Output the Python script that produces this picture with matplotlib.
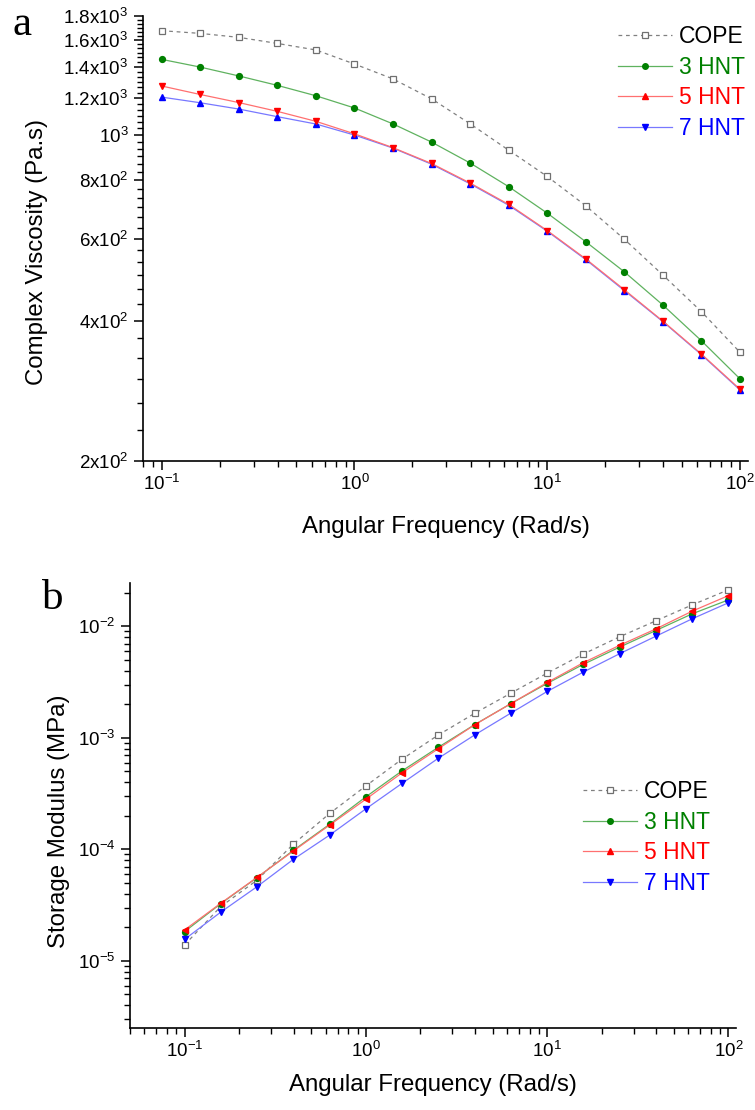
import matplotlib
matplotlib.use("Agg")
import matplotlib.pyplot as plt
from matplotlib.ticker import FixedLocator, FixedFormatter, MultipleLocator, NullFormatter, LogLocator
from matplotlib.lines import Line2D

plt.rcParams['font.family'] = ['Liberation Sans', 'DejaVu Sans']
plt.rcParams['mathtext.default'] = 'regular'
plt.rcParams['axes.unicode_minus'] = False

# ---------------- data ----------------
freq = [0.1, 0.158, 0.251, 0.398, 0.631, 1.0, 1.58, 2.51, 3.98, 6.31,
        10, 15.8, 25.1, 39.8, 63.1, 100]

series_names = ['COPE', '3 HNT', '5 HNT', '7 HNT']

visc_cope = [1674, 1652, 1620, 1572, 1522, 1420, 1320, 1196, 1057, 928, 815, 706, 598, 501, 418, 342]
visc_3hnt = [1453, 1399, 1339, 1278, 1214, 1143, 1057, 966, 871, 775, 680, 591, 509, 432, 362, 300]
visc_5hnt = [1274, 1222, 1174, 1124, 1070, 1006, 940, 869, 789, 710, 624, 543, 466, 399, 339, 285]
visc_7hnt = [1206, 1173, 1137, 1095, 1056, 1000, 938, 866, 786, 707, 622, 541, 464, 398, 338, 284]

mod_cope = [1.39e-5, 3.06e-5, 5.3e-5, 1.114e-4, 2.10e-4, 3.71e-4, 6.43e-4, 1.062e-3, 1.66e-3,
            2.52e-3, 3.81e-3, 5.64e-3, 8.07e-3, 1.122e-2, 1.56e-2, 2.13e-2]
mod_3hnt = [1.83e-5, 3.25e-5, 5.58e-5, 9.8e-5, 1.68e-4, 2.96e-4, 5.05e-4, 8.24e-4, 1.315e-3,
            2.03e-3, 3.08e-3, 4.56e-3, 6.52e-3, 9.19e-3, 1.297e-2, 1.73e-2]
mod_5hnt = [1.894e-5, 3.28e-5, 5.61e-5, 9.66e-5, 1.651e-4, 2.82e-4, 4.85e-4, 8.0e-4, 1.31e-3,
            2.03e-3, 3.14e-3, 4.72e-3, 6.77e-3, 9.5e-3, 1.37e-2, 1.89e-2]
mod_7hnt = [1.56e-5, 2.73e-5, 4.63e-5, 8.14e-5, 1.343e-4, 2.31e-4, 3.90e-4, 6.57e-4, 1.062e-3,
            1.67e-3, 2.61e-3, 3.89e-3, 5.69e-3, 8.17e-3, 1.17e-2, 1.63e-2]

visc_ticks = [200, 400, 600, 800, 1000, 1200, 1400, 1600, 1800]
visc_tick_labels = [r'$2x10^{2}$', r'$4x10^{2}$', r'$6x10^{2}$', r'$8x10^{2}$', r'$10^{3}$',
                    r'$1.2x10^{3}$', r'$1.4x10^{3}$', r'$1.6x10^{3}$', r'$1.8x10^{3}$']
freq_ticks = [0.1, 1, 10, 100]
freq_tick_labels = [r'$10^{-1}$', r'$10^{0}$', r'$10^{1}$', r'$10^{2}$']
mod_ticks = [1e-5, 1e-4, 1e-3, 1e-2]
mod_tick_labels = [r'$10^{-5}$', r'$10^{-4}$', r'$10^{-3}$', r'$10^{-2}$']

# ---------------- styles ----------------
W, H = 755, 1110
fig = plt.figure(figsize=(W / 100, H / 100), dpi=100)

c_grey, c_green, c_red, c_blue = '#707070', '#008000', '#ff0000', '#0000ff'
l_grey, l_green, l_red, l_blue = '#808080', '#5fb25f', '#ff7070', '#7878ff'
lw = 0.9
tick_fs = 13.5
label_fs = 17.3
leg_fs = 16.5


def fig_rect(x0, y0, x1, y1):
    return [x0 / W, 1 - y1 / H, (x1 - x0) / W, (y1 - y0) / H]


def style_axes(ax):
    for s in ['top', 'right']:
        ax.spines[s].set_visible(False)
    for s in ['left', 'bottom']:
        ax.spines[s].set_linewidth(1.2)
    ax.tick_params(which='major', direction='out', length=6.5, width=1.1, labelsize=tick_fs)
    ax.tick_params(which='minor', direction='out', length=4, width=1.0)
    ax.tick_params(axis='x', which='major', pad=2.5)
    ax.tick_params(axis='y', which='major', pad=4)


def make_handles():
    return [
        Line2D([], [], color=l_grey, lw=lw, ls=(0, (3, 3)), marker='s', ms=4,
               mfc='white', mec=c_grey, mew=0.9),
        Line2D([], [], color=l_green, lw=lw, marker='o', ms=4, mfc=c_green, mec=c_green),
        Line2D([], [], color=l_red, lw=lw, marker='^', ms=4.5, mfc=c_red, mec=c_red),
        Line2D([], [], color=l_blue, lw=lw, marker='v', ms=4.5, mfc=c_blue, mec=c_blue),
    ]


def add_legend(ax, anchor):
    leg = ax.legend(make_handles(), series_names, loc='upper left', bbox_to_anchor=anchor,
                    bbox_transform=fig.transFigure, frameon=False, fontsize=leg_fs,
                    handlelength=2.35, handletextpad=0.32, labelspacing=0.33,
                    borderpad=0, borderaxespad=0)
    for txt, col in zip(leg.get_texts(), ['black', c_green, c_red, c_blue]):
        txt.set_color(col)
    return leg


# ---------------- panel a ----------------
ax1 = fig.add_axes(fig_rect(143, 16, 748, 461))
ax1.set_xscale('log')
ax1.set_yscale('log')
ax1.plot(freq, visc_cope, color=l_grey, lw=lw, ls=(0, (3, 3)), marker='s', ms=4,
         mfc='white', mec=c_grey, mew=0.9, zorder=3)
ax1.plot(freq, visc_3hnt, color=l_green, lw=lw, marker='o', ms=4.2, mfc=c_green, mec=c_green, zorder=3)
ax1.plot(freq, visc_7hnt, color=l_blue, lw=lw, marker='^', ms=5, mfc=c_blue, mec=c_blue, zorder=3)
ax1.plot(freq, visc_5hnt, color=l_red, lw=lw, marker='v', ms=5, mfc=c_red, mec=c_red, zorder=4)
ax1.set_xlim(0.08, 110)
ax1.set_ylim(200, 1800)
style_axes(ax1)
ax1.yaxis.set_major_locator(FixedLocator(visc_ticks))
ax1.yaxis.set_major_formatter(FixedFormatter(visc_tick_labels))
ax1.yaxis.set_minor_locator(MultipleLocator(200 / 6))
ax1.yaxis.set_minor_formatter(NullFormatter())
ax1.xaxis.set_major_locator(FixedLocator(freq_ticks))
ax1.xaxis.set_major_formatter(FixedFormatter(freq_tick_labels))
ax1.xaxis.set_minor_locator(LogLocator(base=10, subs=range(2, 10)))
ax1.xaxis.set_minor_formatter(NullFormatter())
ax1.set_xlabel('Angular Frequency (Rad/s)', fontsize=label_fs)
ax1.set_ylabel('Complex Viscosity (Pa.s)', fontsize=label_fs)
ax1.xaxis.label.set_verticalalignment('center')
ax1.xaxis.set_label_coords(0.5, -(527 - 461) / 445)
ax1.yaxis.label.set_verticalalignment('center')
ax1.yaxis.set_label_coords((37 - 143) / 605, (461 - 252) / 445)
add_legend(ax1, (618 / W, 1 - 25 / H))
fig.text(12 / W, 1 - 35 / H, 'a', family='Liberation Serif', fontsize=31, ha='left', va='baseline')

# ---------------- panel b ----------------
ax2 = fig.add_axes(fig_rect(130, 583, 736, 1028))
ax2.set_xscale('log')
ax2.set_yscale('log')
ax2.plot(freq, mod_cope, color=l_grey, lw=lw, ls=(0, (3, 3)), marker='s', ms=4,
         mfc='white', mec=c_grey, mew=0.9, zorder=3)
ax2.plot(freq, mod_3hnt, color=l_green, lw=lw, marker='o', ms=4.2, mfc=c_green, mec=c_green, zorder=3)
ax2.plot(freq, mod_5hnt, color=l_red, lw=lw, marker='<', ms=5, mfc=c_red, mec=c_red, zorder=4)
ax2.plot(freq, mod_7hnt, color=l_blue, lw=lw, marker='v', ms=5, mfc=c_blue, mec=c_blue, zorder=3)
ax2.set_xlim(0.05, 110)
ax2.set_ylim(2.5e-6, 2.45e-2)
style_axes(ax2)
ax2.yaxis.set_major_locator(FixedLocator(mod_ticks))
ax2.yaxis.set_major_formatter(FixedFormatter(mod_tick_labels))
ax2.yaxis.set_minor_locator(LogLocator(base=10, subs=range(2, 10)))
ax2.yaxis.set_minor_formatter(NullFormatter())
ax2.xaxis.set_major_locator(FixedLocator(freq_ticks))
ax2.xaxis.set_major_formatter(FixedFormatter(freq_tick_labels))
ax2.xaxis.set_minor_locator(LogLocator(base=10, subs=range(2, 10)))
ax2.xaxis.set_minor_formatter(NullFormatter())
ax2.set_xlabel('Angular Frequency (Rad/s)', fontsize=label_fs)
ax2.set_ylabel('Storage Modulus (MPa)', fontsize=label_fs)
ax2.xaxis.label.set_verticalalignment('center')
ax2.xaxis.set_label_coords(0.5, -(1085 - 1028) / 445)
ax2.yaxis.label.set_verticalalignment('center')
ax2.yaxis.set_label_coords((59 - 130) / 606, (1028 - 821) / 445)
add_legend(ax2, (583 / W, 1 - 780 / H))
fig.text(42 / W, 1 - 609 / H, 'b', family='Liberation Serif', fontsize=31, ha='left', va='baseline')

fig.savefig('out.png', dpi=100)
